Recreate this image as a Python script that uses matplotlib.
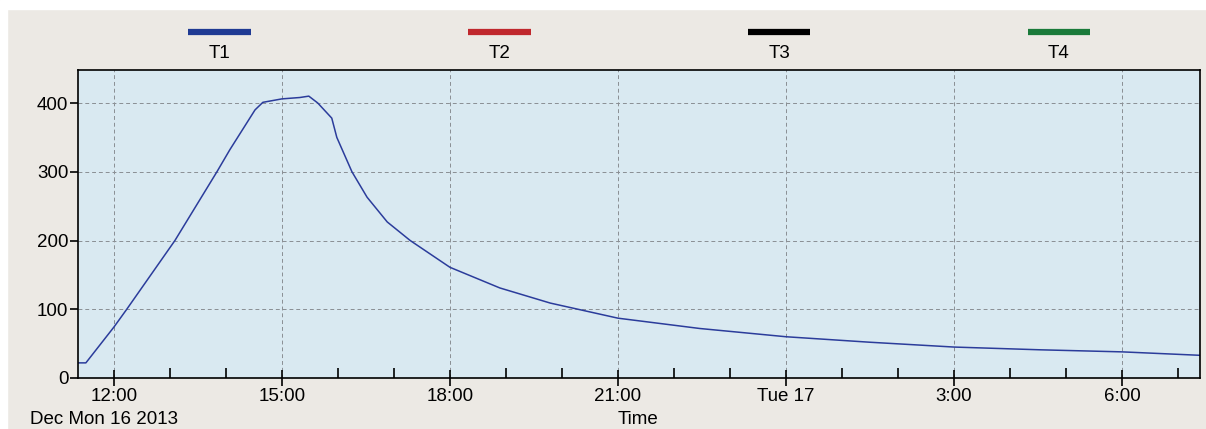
import numpy as np
import matplotlib.pyplot as plt
import matplotlib.dates as mdates
from matplotlib.lines import Line2D
from datetime import datetime, timedelta

plt.rcParams['font.family'] = ['Liberation Sans', 'DejaVu Sans']

# hours since midnight Dec 16 2013, and temperature T1
hours = [11.37, 11.5, 12.0, 12.23, 13.09, 13.84, 14.07, 14.52, 14.66, 15.0, 15.32, 15.48,
         15.64, 15.89, 15.98, 16.25, 16.52, 16.88, 17.29, 18.0, 18.89, 19.79, 21.0, 22.46,
         24.0, 25.5, 27.0, 28.54, 30.0, 31.39]
t1 = [22, 22, 74, 100, 200, 300, 332, 390, 401, 406, 408, 410,
      400, 378, 350, 300, 263, 227, 200, 161, 131, 109, 87, 72,
      60, 52, 45, 41, 38, 33]

series = ["T1", "T2", "T3", "T4"]
colors = ["#1f3a93", "#c0282d", "#000000", "#1a7a3a"]

base = datetime(2013, 12, 16)
times = [base + timedelta(hours=h) for h in hours]

fig = plt.figure(figsize=(12.06, 4.29), dpi=100)
fig.patch.set_facecolor("#ece9e4")
fig.add_artist(plt.Rectangle((0, 0.978), 1, 0.022, transform=fig.transFigure,
                             color="white", zorder=0))
fig.add_artist(plt.Rectangle((0, 0), 0.006, 1, transform=fig.transFigure,
                             color="white", zorder=0))

ax = fig.add_axes([0.0647, 0.1189, 0.9303, 0.7179])
ax.set_facecolor("#d9e9f1")
ax.plot(times, t1, color="#2b3c9b", lw=1.1)

ax.set_xlim(base + timedelta(hours=11.36), base + timedelta(hours=31.39))
ax.set_ylim(0, 448)
ax.set_yticks([0, 100, 200, 300, 400])

ax.xaxis.set_major_locator(mdates.HourLocator(byhour=[0, 3, 6, 9, 12, 15, 18, 21]))
ax.xaxis.set_minor_locator(mdates.HourLocator())

def fmt(x, pos=None):
    d = mdates.num2date(x)
    if d.hour == 0:
        return "Tue 17"
    return f"{d.hour}:00"

ax.xaxis.set_major_formatter(plt.FuncFormatter(fmt))
ax.grid(True, which="major", color="#8a8f94", ls=(0, (4, 3)), lw=0.7)
ax.tick_params(axis="x", which="major", direction="inout", length=12, width=1.2,
               labelsize=13.5, pad=1)
ax.tick_params(axis="x", which="minor", direction="in", length=7, width=1.2)
ax.tick_params(axis="y", direction="out", length=6, width=1.2, labelsize=13.5, pad=1)
for s in ax.spines.values():
    s.set_linewidth(1.2)

# legend across the top
lx = [0.182, 0.414, 0.646, 0.878]
for name, c, x in zip(series, colors, lx):
    fig.add_artist(Line2D([x - 0.026, x + 0.026], [0.925, 0.925], color=c, lw=4.5,
                          transform=fig.transFigure, solid_capstyle="butt"))
    fig.text(x, 0.875, name, ha="center", va="center", fontsize=13.5)

fig.text(0.025, 0.002, "Dec Mon 16 2013", ha="left", va="bottom", fontsize=13.5)
fig.text(0.529, 0.002, "Time", ha="center", va="bottom", fontsize=13.5)

fig.savefig("out.png", dpi=100, facecolor=fig.get_facecolor())
